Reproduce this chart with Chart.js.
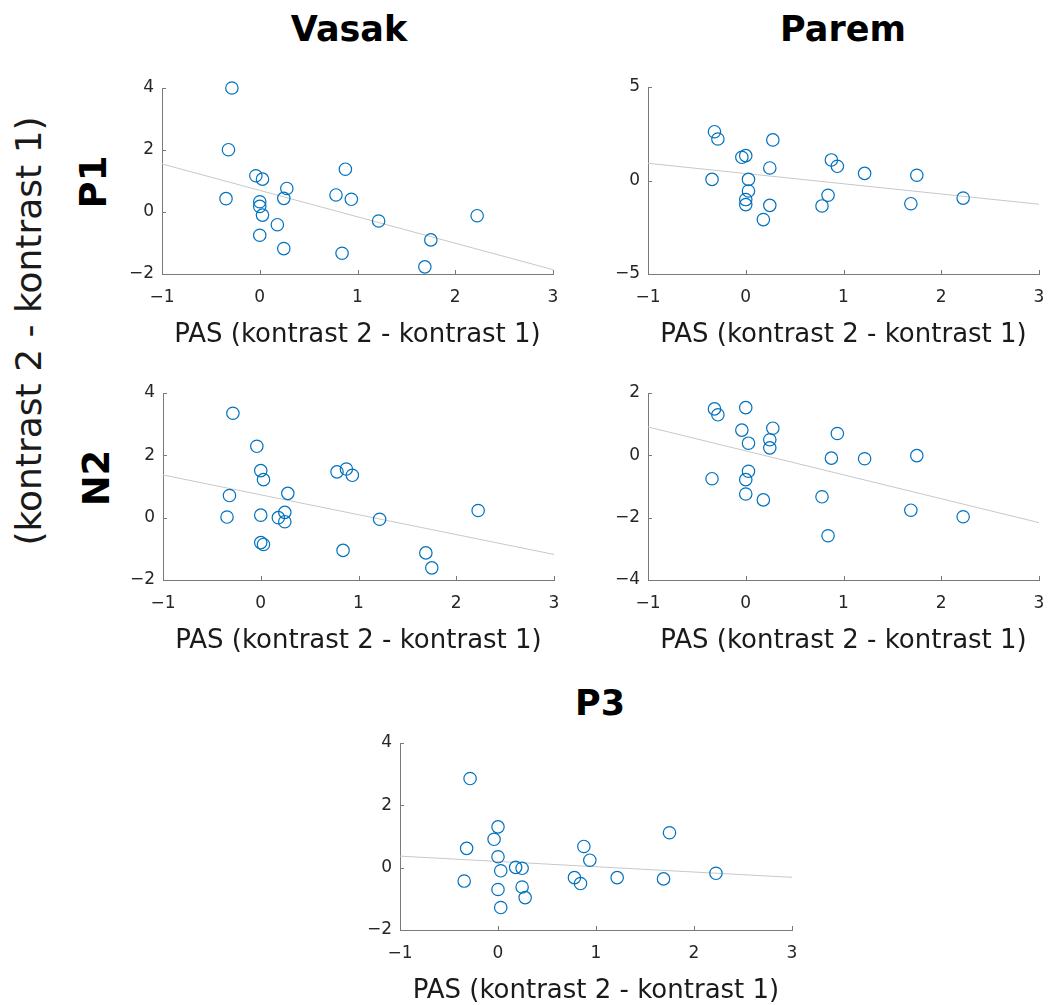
<!DOCTYPE html>
<html><head><meta charset="utf-8">
<script src="https://cdn.jsdelivr.net/npm/chart.js@4.4.0/dist/chart.umd.min.js"></script>
<style>
html,body{margin:0;padding:0;background:#fff;width:1048px;height:1005px;overflow:hidden;position:relative;font-family:"DejaVu Sans";}
canvas.c{position:absolute;}
.t{position:absolute;white-space:nowrap;line-height:1;color:#000;transform:translate(-50%,-50%);}
.r{transform:translate(-50%,-50%) rotate(-90deg);}
</style></head><body>
<div class="t" style="left:349px;top:29px;font-size:35px;font-weight:bold">Vasak</div>
<div class="t" style="left:843px;top:29px;font-size:35px;font-weight:bold">Parem</div>
<div class="t" style="left:600px;top:703px;font-size:35px;font-weight:bold">P3</div>
<div class="t r" style="left:93px;top:182px;font-size:37px;font-weight:bold">P1</div>
<div class="t r" style="left:96px;top:478px;font-size:37px;font-weight:bold">N2</div>
<div class="t r" style="left:29px;top:331px;font-size:36px;color:#1a1a1a">(kontrast 2 - kontrast 1)</div>
<canvas class="c" id="c1"></canvas>
<canvas class="c" id="c2"></canvas>
<canvas class="c" id="c3"></canvas>
<canvas class="c" id="c4"></canvas>
<canvas class="c" id="c5"></canvas>
<script>
// ---- data ----
const pasX = [-0.345, -0.32, -0.285, -0.04, 0, 0, 0, 0.028, 0.028, 0.18, 0.246, 0.246, 0.277, 0.78, 0.842, 0.876, 0.937, 1.216, 1.689, 1.75, 2.224];
const vasakP1 = [0.43, 2.01, 4.0, 1.17, 0.33, 0.18, -0.75, 1.06, -0.10, -0.41, 0.44, -1.18, 0.76, 0.55, -1.33, 1.38, 0.41, -0.29, -1.77, -0.90, -0.12];
const paremP1 = [0.06, 2.61, 2.22, 1.24, 1.33, -1.02, -1.29, 0.06, -0.56, -2.09, 0.67, -1.33, 2.17, -1.36, -0.79, 1.10, 0.76, 0.38, -1.24, 0.28, -0.94];
const vasakN2 = [0.02, 0.71, 3.35, 2.29, 1.51, 0.08, -0.80, 1.22, -0.86, 0.0, 0.17, -0.13, 0.78, 1.47, -1.05, 1.56, 1.36, -0.05, -1.13, -1.61, 0.23];
const paremN2 = [-0.75, 1.49, 1.30, 0.81, 1.53, -0.78, -1.24, 0.39, -0.51, -1.43, 0.50, 0.24, 0.87, -1.33, -2.58, -0.09, 0.70, -0.11, -1.76, -0.01, -1.97];
const p3Both = [-0.43, 0.62, 2.86, 0.91, 1.31, 0.35, -0.70, -0.10, -1.28, 0.01, -0.02, -0.62, -0.96, -0.32, -0.51, 0.68, 0.24, -0.32, -0.36, 1.12, -0.18];

// regression line values at x = -1 and x = 3
const fitX = [-1, 3];
const fitVasakP1 = [1.55, -1.86];
const fitParemP1 = [0.92, -1.27];
const fitVasakN2 = [1.37, -1.18];
const fitParemN2 = [0.91, -2.16];
const fitP3 = [0.37, -0.31];

// tick labels
const xTicks = [-1, 0, 1, 2, 3];
const yTicksA = [-2, 0, 2, 4];
const yTicksB = [-5, 0, 5];
const yTicksC = [-4, -2, 0, 2];

const xLabel = 'PAS (kontrast 2 - kontrast 1)';

// ---- layout ----
const Y_W = 70, TOP = 30, X_H = 75, RIGHT = 20;
const AXIS = '#7a7a7a', TXT = '#262626', BLUE = '#0072BD';

const inTicks = {
  id: 'inTicks',
  afterDraw(chart) {
    const {ctx, chartArea: a, scales: {x, y}} = chart;
    ctx.save();
    ctx.strokeStyle = AXIS; ctx.lineWidth = 1;
    ctx.beginPath();
    x.ticks.forEach(t => { const p = Math.round(x.getPixelForValue(t.value)) + 0.5; ctx.moveTo(p, a.bottom); ctx.lineTo(p, a.bottom - 4); });
    y.ticks.forEach(t => { const p = Math.round(y.getPixelForValue(t.value)) + 0.5; ctx.moveTo(a.left, p); ctx.lineTo(a.left + 4, p); });
    ctx.stroke();
    ctx.restore();
  }
};

function fmt(v) { return String(v).replace('-', '\u2212'); }

function panel(id, geo, ys, fit, yTicks) {
  const cv = document.getElementById(id);
  const W = Y_W + geo.w + RIGHT, H = TOP + geo.h + X_H;
  cv.style.left = (geo.left - Y_W) + 'px';
  cv.style.top = (geo.top - TOP) + 'px';
  cv.style.width = W + 'px'; cv.style.height = H + 'px';
  cv.width = W; cv.height = H;
  new Chart(cv, {
    type: 'scatter',
    data: {
      datasets: [
        { data: pasX.map((x, i) => ({x, y: ys[i]})), borderColor: BLUE, backgroundColor: 'rgba(0,0,0,0)',
          pointRadius: 6.2, pointBorderWidth: 1.2, pointStyle: 'circle', clip: false },
        { type: 'line', data: fitX.map((x, i) => ({x, y: fit[i]})), borderColor: '#c8c8c8', borderWidth: 1,
          pointRadius: 0, fill: false, clip: false }
      ]
    },
    options: {
      responsive: false, animation: false, events: [],
      layout: { padding: { top: TOP, right: RIGHT, left: 0, bottom: 0 } },
      plugins: { legend: { display: false }, tooltip: { enabled: false } },
      scales: {
        x: {
          type: 'linear', min: xTicks[0], max: xTicks[xTicks.length - 1],
          afterBuildTicks: s => { s.ticks = xTicks.map(v => ({value: v})); },
          afterFit: s => { s.height = X_H; },
          grid: { display: false, drawTicks: false },
          border: { display: true, color: AXIS, width: 1 },
          ticks: { padding: 13, color: TXT, font: { family: 'DejaVu Sans', size: 17 }, callback: fmt, maxRotation: 0, autoSkip: false },
          title: { display: true, text: xLabel, color: '#1a1a1a', font: { family: 'DejaVu Sans', size: 26, lineHeight: 1 }, padding: { top: 0, bottom: 1 } }
        },
        y: {
          type: 'linear', min: yTicks[0], max: yTicks[yTicks.length - 1],
          afterBuildTicks: s => { s.ticks = yTicks.map(v => ({value: v})); },
          afterFit: s => { s.width = Y_W; },
          grid: { display: false, drawTicks: false },
          border: { display: true, color: AXIS, width: 1 },
          ticks: { padding: 8, color: TXT, font: { family: 'DejaVu Sans', size: 17 }, callback: fmt, autoSkip: false }
        }
      }
    },
    plugins: [inTicks]
  });
}

panel('c1', {left: 162, top: 88, w: 391, h: 186}, vasakP1, fitVasakP1, yTicksA);
panel('c2', {left: 648, top: 87, w: 391, h: 187}, paremP1, fitParemP1, yTicksB);
panel('c3', {left: 163, top: 393, w: 391, h: 187}, vasakN2, fitVasakN2, yTicksA);
panel('c4', {left: 648, top: 393, w: 391, h: 187}, paremN2, fitParemN2, yTicksC);
panel('c5', {left: 400, top: 743, w: 392, h: 187}, p3Both, fitP3, yTicksA);
</script>
</body></html>
